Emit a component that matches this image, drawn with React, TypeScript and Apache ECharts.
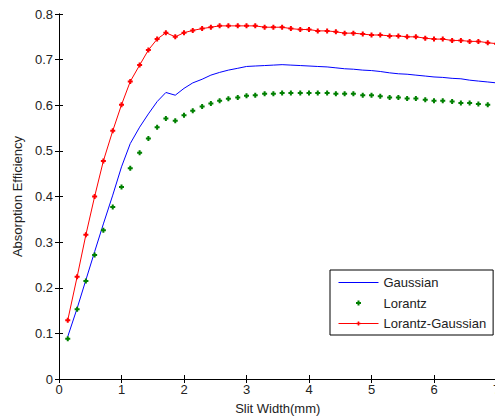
import React, { useEffect, useRef } from "react";
import * as echarts from "echarts";

const slitWidth = [
  0.14, 0.29, 0.43, 0.57, 0.71, 0.86, 1.0, 1.14, 1.29, 1.43,
  1.57, 1.71, 1.86, 2.0, 2.14, 2.29, 2.43, 2.57, 2.71, 2.86,
  3.0, 3.14, 3.29, 3.43, 3.57, 3.71, 3.86, 4.0, 4.14, 4.29,
  4.43, 4.57, 4.71, 4.86, 5.0, 5.14, 5.29, 5.43, 5.57, 5.71,
  5.86, 6.0, 6.14, 6.29, 6.43, 6.57, 6.71, 6.86, 7.0,
];

const gaussian = [
  0.093, 0.155, 0.217, 0.279, 0.340, 0.403, 0.465, 0.516, 0.552, 0.581,
  0.608, 0.628, 0.622, 0.637, 0.649, 0.657, 0.666, 0.672, 0.677, 0.681,
  0.685, 0.686, 0.687, 0.688, 0.689, 0.688, 0.687, 0.686, 0.685, 0.684,
  0.682, 0.680, 0.679, 0.677, 0.676, 0.674, 0.671, 0.669, 0.668, 0.666,
  0.664, 0.662, 0.661, 0.659, 0.658, 0.655, 0.653, 0.651, 0.649,
];

const lorantz = [
  0.088, 0.153, 0.215, 0.272, 0.326, 0.377, 0.421, 0.462, 0.496, 0.527,
  0.552, 0.571, 0.566, 0.578, 0.588, 0.597, 0.604, 0.610, 0.614, 0.617,
  0.621, 0.622, 0.625, 0.625, 0.627, 0.627, 0.627, 0.627, 0.627, 0.627,
  0.625, 0.625, 0.625, 0.622, 0.622, 0.620, 0.617, 0.617, 0.615, 0.615,
  0.612, 0.610, 0.610, 0.608, 0.605, 0.605, 0.603, 0.601,
];

const lorantzGaussian = [
  0.129, 0.224, 0.316, 0.400, 0.478, 0.544, 0.601, 0.652, 0.688, 0.721,
  0.745, 0.759, 0.750, 0.759, 0.764, 0.768, 0.771, 0.774, 0.774, 0.774,
  0.774, 0.774, 0.771, 0.771, 0.771, 0.768, 0.766, 0.766, 0.763, 0.763,
  0.761, 0.758, 0.758, 0.756, 0.754, 0.754, 0.752, 0.752, 0.750, 0.750,
  0.747, 0.745, 0.745, 0.742, 0.742, 0.740, 0.740, 0.737, 0.735,
];

const seriesNames = ["Gaussian", "Lorantz", "Lorantz-Gaussian"];
const xAxisTitle = "Slit Width(mm)";
const yAxisTitle = "Absorption Efficiency";

const MARKER = "path://M1.5,0H3.5V1.5H5V3.5H3.5V5H1.5V3.5H0V1.5H1.5Z";

function pairs(xs: number[], ys: number[]) {
  return ys.map((y, i) => [xs[i], y]);
}

export default function App() {
  const ref = useRef<HTMLDivElement>(null);
  useEffect(() => {
    if (!ref.current) return;
    const chart = echarts.init(ref.current, null, { renderer: "svg" });
    const font = "Liberation Sans, Arial, sans-serif";
    const axisLine = { show: true, lineStyle: { color: "#000", width: 1 } };
    const tick = { show: true, inside: true, length: 4, lineStyle: { color: "#000" } };
    chart.setOption({
      animation: false,
      backgroundColor: "#fff",
      textStyle: { fontFamily: font },
      grid: { left: 59, top: 14, width: 437.5, height: 365, outerBoundsMode: "none", containLabel: false },
      legend: {
        orient: "vertical",
        left: 330,
        top: 270,
        data: [
          { name: seriesNames[0], itemStyle: { opacity: 0 } },
          { name: seriesNames[1] },
          { name: seriesNames[2] },
        ],
        itemWidth: 40,
        itemHeight: 5,
        itemGap: 7.5,
        padding: [6, 7, 5, 8],
        borderColor: "#000",
        borderWidth: 1,
        borderRadius: 0,
        backgroundColor: "#fff",
        lineStyle: { width: 1 },
        textStyle: { fontSize: 13, color: "#222", fontFamily: font },
      },
      xAxis: [
        {
          type: "value",
          min: 0,
          max: 7,
          interval: 1,
          position: "bottom",
          name: xAxisTitle,
          nameLocation: "middle",
          nameGap: 23,
          nameTextStyle: { fontSize: 13, color: "#222", fontFamily: font },
          axisLine,
          axisTick: tick,
          splitLine: { show: false },
          axisLabel: { fontSize: 13, color: "#222", margin: 4, fontFamily: font },
        },
        {
          type: "value",
          min: 0,
          max: 7,
          interval: 1,
          position: "top",
          axisLine,
          axisTick: tick,
          splitLine: { show: false },
          axisLabel: { show: false },
        },
      ],
      yAxis: [
        {
          type: "value",
          min: 0,
          max: 0.8,
          interval: 0.1,
          position: "left",
          name: yAxisTitle,
          nameLocation: "middle",
          nameGap: 31,
          nameTextStyle: { fontSize: 13, color: "#222", fontFamily: font },
          axisLine,
          axisTick: tick,
          splitLine: { show: false },
          axisLabel: { fontSize: 13, color: "#222", margin: 6, fontFamily: font },
        },
        {
          type: "value",
          min: 0,
          max: 0.8,
          interval: 0.1,
          position: "right",
          axisLine,
          axisTick: tick,
          splitLine: { show: false },
          axisLabel: { show: false },
        },
      ],
      series: [
        {
          name: seriesNames[0],
          type: "line",
          data: pairs(slitWidth, gaussian),
          symbol: "none",
          lineStyle: { color: "#0000ff", width: 1 },
          itemStyle: { color: "#0000ff" },
          z: 2,
        },
        {
          name: seriesNames[1],
          type: "scatter",
          data: pairs(slitWidth, lorantz),
          symbol: MARKER,
          symbolSize: 5,
          itemStyle: { color: "#008000", opacity: 1 },
          z: 3,
        },
        {
          name: seriesNames[2],
          type: "line",
          data: pairs(slitWidth, lorantzGaussian),
          symbol: MARKER,
          symbolSize: 5,
          showSymbol: true,
          lineStyle: { color: "#ff0000", width: 1 },
          itemStyle: { color: "#ff0000" },
          z: 4,
        },
      ],
    });
    return () => chart.dispose();
  }, []);
  return <div ref={ref} style={{ width: 495, height: 418, position: "absolute", left: 0, top: 0 }} />;
}
